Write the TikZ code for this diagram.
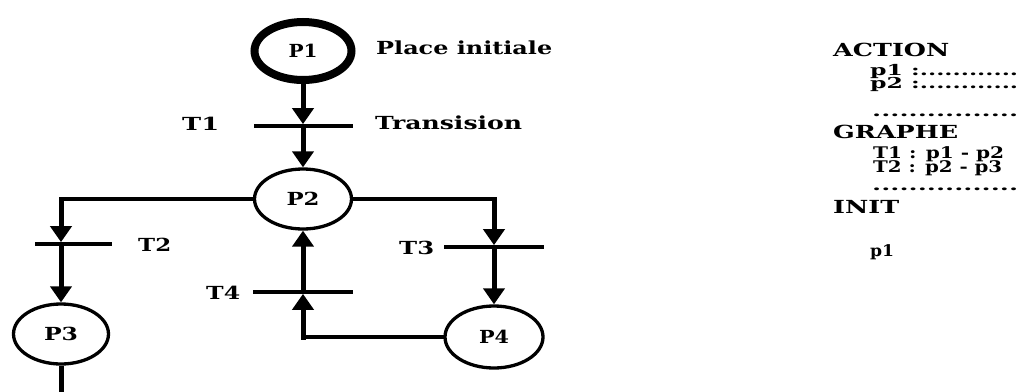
\documentclass[tikz,border=0pt]{standalone}
\usepackage{fontspec}
\setmainfont{DejaVu Serif}
\usetikzlibrary{arrows.meta,shapes.geometric}
\newcommand\wtxt[2]{\resizebox{#1pt}{\height}{#2}}
\begin{document}
\begin{tikzpicture}[x=1pt,y=-1pt,
  place/.style={draw, ellipse, line width=3.3pt, inner sep=0pt, font=\bfseries\fontsize{18}{18}\selectfont},
  initplace/.style={place, line width=8pt},
  tbar/.style={fill=black, rectangle, inner sep=0pt, minimum height=3.3pt},
  link/.style={line width=5pt, line cap=rect, -{Triangle[length=16pt,width=21pt]}},
  plainlink/.style={line width=5pt},
  wire/.style={line width=3.5pt, line cap=rect},
  lbl/.style={inner sep=0pt, anchor=base west, font=\bfseries\fontsize{18}{18}\selectfont},
  rtbig/.style={inner sep=0pt, anchor=base west, font=\bfseries\fontsize{18}{18}\selectfont},
  rtmid/.style={inner sep=0pt, anchor=base west, font=\bfseries\fontsize{16}{16}\selectfont},
  rtsmall/.style={inner sep=0pt, anchor=base west, font=\bfseries\fontsize{15}{15}\selectfont},
]
\fill[white] (0,0) rectangle (1020,391);
\useasboundingbox (0,0) rectangle (1020,391);

% places and transitions
\node[initplace, minimum width=97pt, minimum height=58pt] (p1) at (303,51) {\wtxt{29}{P1}};
\node[lbl] (pinit) at (376,54) {\wtxt{176}{Place initiale}};
\node[tbar, minimum width=99pt] (t1) at (303,126) {};
\node[lbl] (t1l) at (182,130) {\wtxt{37}{T1}};
\node[lbl] (trans) at (375,129) {\wtxt{147}{Transision}};

\node[place, minimum width=97pt, minimum height=60pt] (p2) at (303,199) {\wtxt{33}{P2}};
\coordinate (c2) at (61,199);
\coordinate (c3) at (494,199);

\node[tbar, minimum width=77pt, anchor=west] (t2) at (35,244) {};
\node[lbl] (t2l) at (138,251) {\wtxt{33}{T2}};
\node[place, minimum width=95pt, minimum height=60pt] (p3) at (61,334) {\wtxt{34}{P3}};
\coordinate (p3end) at (61,400);

\node[tbar, minimum width=100pt] (t3) at (494,247) {};
\node[lbl] (t3l) at (399,254) {\wtxt{35}{T3}};
\node[place, minimum width=98pt, minimum height=62pt] (p4) at (494,337) {\wtxt{30}{P4}};

\node[tbar, minimum width=100pt] (t4) at (303,292) {};
\node[lbl] (t4l) at (206,299) {\wtxt{34}{T4}};
\coordinate (c4) at (303,337);

% connectors
\draw[link] (p1) -- (t1);
\draw[link] (t1) -- (p2);
\draw[wire] (p2.west) -- (c2);
\draw[link] (c2) -- (c2 |- t2.north);
\draw[link] (c2 |- t2.south) -- (p3.north);
\draw[plainlink] (p3.south) -- (p3end);
\draw[wire] (p2.east) -- (c3);
\draw[link] (c3) -- (t3.north);
\draw[link] (t3.south) -- (p4.north);
\draw[wire] (p4.west) -- (c4);
\draw[link] (c4) -- (t4.south);
\draw[link] (t4.north) -- (p2.south);

% right panel
\node[rtbig] (action) at (833,56) {\wtxt{116}{ACTION}};
\node[rtsmall] (a1) at (870,75) {\wtxt{148}{p1 :............}};
\node[rtsmall] (a2) at (870,88) {\wtxt{148}{p2 :............}};
\node[rtsmall] (d1) at (872,116) {\wtxt{146}{................}};
\node[rtbig] (graphe) at (833,138) {\wtxt{125}{GRAPHE}};
\node[rtmid] (g1) at (873,158) {\wtxt{131}{T1 : p1 - p2}};
\node[rtmid] (g2) at (873,172) {\wtxt{129}{T2 : p2 - p3}};
\node[rtsmall] (d2) at (872,190) {\wtxt{146}{................}};
\node[rtbig] (init) at (833,213) {\wtxt{66}{INIT}};
\node[rtmid] (ip1) at (870,256) {\wtxt{24}{p1}};
\end{tikzpicture}
\end{document}
